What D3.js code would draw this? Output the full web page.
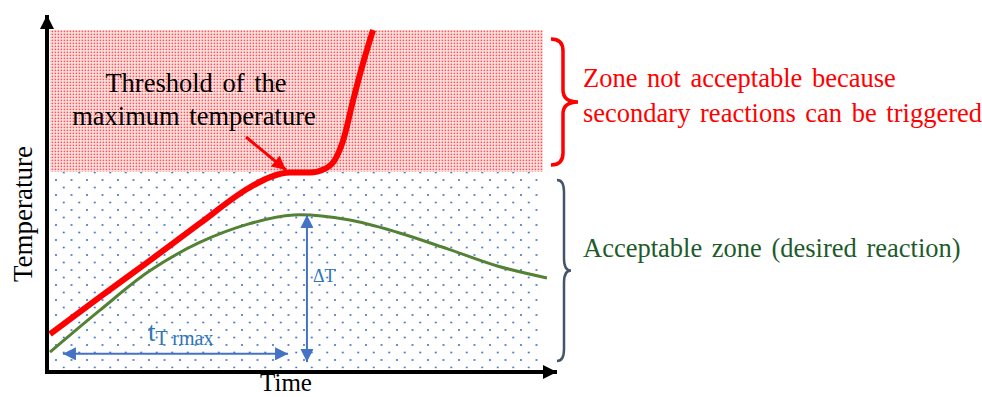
<!DOCTYPE html>
<html>
<head>
<meta charset="utf-8">
<script src="https://cdn.jsdelivr.net/npm/d3@7"></script>
<style>
  body { margin: 0; background: #fff; }
  text { font-family: "Liberation Serif", "DejaVu Serif", serif; }
</style>
</head>
<body>
<svg id="chart"></svg>
<script>
// time (arbitrary units) and temperature (arbitrary units)
var runawayTime = [0, 10, 20, 30, 40, 44.3, 48.3, 52.3, 55.3, 57.3, 59, 61, 63, 65];
var runawayTemp = [11.1, 21.9, 32.5, 43.3, 53.8, 57.0, 58.3, 58.3, 59.4, 62.0, 67.8, 79.5, 90.4, 100];

var desiredTime = [0, 10, 20, 30, 40, 49, 60, 70, 80, 90, 100];
var desiredTemp = [5.8, 18.0, 29.5, 37.8, 43.3, 45.9, 44.5, 40.8, 36.0, 31.0, 27.5];

var thresholdTemp = 58.5;   // limit between the two zones
var zoneEnd = 99.2;         // zones stop a bit before the end of the time axis
var tMaxTime = 47.9;        // time of the maximum temperature
var tArrowTemp = 5.3;
var deltaT = [2.9, 45.9];   // vertical arrow span
var deltaTime = 51.7;

var width = 982, height = 397;
var svg = d3.select("#chart").attr("width", width).attr("height", height)
    .style("display", "block")
    .style("font-family", "'Liberation Serif', 'DejaVu Serif', serif");

var x = d3.scaleLinear().domain([0, 100]).range([50, 547]);
var y = d3.scaleLinear().domain([0, 100]).range([372, 30]);

var defs = svg.append("defs");

// red dotted fill
var red = defs.append("pattern")
    .attr("id", "redDots")
    .attr("patternUnits", "userSpaceOnUse")
    .attr("width", 3).attr("height", 3);
red.append("rect").attr("width", 3).attr("height", 3).attr("fill", "#fee8e8");
red.append("rect").attr("x", 0.6).attr("y", 0.6).attr("width", 1.6).attr("height", 1.6).attr("fill", "#f75555");

// sparse blue dots
var blue = defs.append("pattern")
    .attr("id", "blueDots")
    .attr("patternUnits", "userSpaceOnUse")
    .attr("x", 56).attr("y", 180)
    .attr("width", 15.5).attr("height", 15);
blue.append("rect").attr("width", 15.5).attr("height", 15).attr("fill", "#fff");
[[0, 0], [15.5, 0], [0, 15], [15.5, 15], [7.75, 7.5]].forEach(function (p) {
    blue.append("circle").attr("cx", p[0]).attr("cy", p[1]).attr("r", 1.1).attr("fill", "#4a78c8");
});

function arrowMarker(id, color, w, h) {
    defs.append("marker")
        .attr("id", id)
        .attr("viewBox", "0 0 10 10")
        .attr("refX", 10).attr("refY", 5)
        .attr("markerUnits", "userSpaceOnUse")
        .attr("markerWidth", w).attr("markerHeight", h)
        .attr("orient", "auto-start-reverse")
        .append("path")
        .attr("d", "M0,0L10,5L0,10Z")
        .attr("fill", color);
}
arrowMarker("blackHead", "#000", 14, 14);
arrowMarker("blueHead", "#4472c4", 15, 13);
arrowMarker("redHead", "#ff0000", 15, 14);

// zones
svg.append("rect")
    .attr("x", x(0)).attr("y", y(100))
    .attr("width", x(zoneEnd) - x(0))
    .attr("height", y(thresholdTemp) - y(100))
    .attr("fill", "url(#redDots)");
svg.append("rect")
    .attr("x", x(0)).attr("y", y(thresholdTemp))
    .attr("width", x(zoneEnd) - x(0))
    .attr("height", y(1) - y(thresholdTemp))
    .attr("fill", "url(#blueDots)");

// curves
var line = d3.line()
    .x(function (d) { return x(d[0]); })
    .y(function (d) { return y(d[1]); })
    .curve(d3.curveCatmullRom);

svg.append("path")
    .attr("d", line(d3.zip(desiredTime, desiredTemp)))
    .attr("fill", "none")
    .attr("stroke", "#548235")
    .attr("stroke-width", 3);

svg.append("path")
    .attr("d", line.curve(d3.curveMonotoneX)(d3.zip(runawayTime, runawayTemp)))
    .attr("fill", "none")
    .attr("stroke", "#ff0000")
    .attr("stroke-width", 6);

// axes
svg.append("line")
    .attr("x1", 47).attr("y1", y(0) + 1.5)
    .attr("x2", 47).attr("y2", 15)
    .attr("stroke", "#000").attr("stroke-width", 4)
    .attr("marker-end", "url(#blackHead)");
svg.append("line")
    .attr("x1", 45).attr("y1", y(0))
    .attr("x2", 557).attr("y2", y(0))
    .attr("stroke", "#000").attr("stroke-width", 4)
    .attr("marker-end", "url(#blackHead)");

svg.append("text")
    .attr("transform", "translate(32,214) rotate(-90)")
    .attr("text-anchor", "middle")
    .style("font-size", "27px")
    .text("Temperature");
svg.append("text")
    .attr("x", 286).attr("y", 391)
    .attr("text-anchor", "middle")
    .style("font-size", "25px")
    .text("Time");

// blue measurement arrows
svg.append("line")
    .attr("x1", x(2.6)).attr("y1", y(tArrowTemp))
    .attr("x2", x(tMaxTime)).attr("y2", y(tArrowTemp))
    .attr("stroke", "#4472c4").attr("stroke-width", 2)
    .attr("marker-start", "url(#blueHead)")
    .attr("marker-end", "url(#blueHead)");
svg.append("line")
    .attr("x1", x(deltaTime)).attr("y1", y(deltaT[1]))
    .attr("x2", x(deltaTime)).attr("y2", y(deltaT[0]))
    .attr("stroke", "#4472c4").attr("stroke-width", 2)
    .attr("marker-start", "url(#blueHead)")
    .attr("marker-end", "url(#blueHead)");

var tLabel = svg.append("text")
    .attr("x", 148).attr("y", 341)
    .attr("fill", "#2e75b6")
    .style("font-size", "27px");
tLabel.append("tspan").text("t");
tLabel.append("tspan").attr("dy", 4).style("font-size", "20px").text("T rmax");

svg.append("text")
    .attr("x", 313).attr("y", 282)
    .attr("fill", "#2e75b6")
    .style("font-size", "18px")
    .text("\u0394T");

// threshold annotation
svg.append("text")
    .attr("x", 196).attr("y", 92)
    .attr("text-anchor", "middle")
    .style("font-size", "26.5px")
    .attr("word-spacing", "3px")
    .text("Threshold  of the");
svg.append("text")
    .attr("x", 194).attr("y", 125)
    .attr("text-anchor", "middle")
    .style("font-size", "26.5px")
    .attr("word-spacing", "3px")
    .text("maximum  temperature");
svg.append("line")
    .attr("x1", 246).attr("y1", 137)
    .attr("x2", 286).attr("y2", 170)
    .attr("stroke", "#ff0000").attr("stroke-width", 3)
    .attr("marker-end", "url(#redHead)");

// braces
function brace(x0, xm, xt, y0, y1) {
    var ym = (y0 + y1) / 2, r = 12;
    return "M" + x0 + "," + y0 +
        "Q" + xm + "," + y0 + " " + xm + "," + (y0 + r) +
        "L" + xm + "," + (ym - r) +
        "Q" + xm + "," + ym + " " + xt + "," + ym +
        "Q" + xm + "," + ym + " " + xm + "," + (ym + r) +
        "L" + xm + "," + (y1 - r) +
        "Q" + xm + "," + y1 + " " + x0 + "," + y1;
}
svg.append("path")
    .attr("d", brace(551, 563, 578, 39, 165))
    .attr("fill", "none").attr("stroke", "#ff0000").attr("stroke-width", 3.5);
svg.append("path")
    .attr("d", brace(557, 564, 571, 180, 361))
    .attr("fill", "none").attr("stroke", "#44546a").attr("stroke-width", 2.5);

svg.append("text")
    .attr("x", 583).attr("y", 87)
    .attr("fill", "#ff0000")
    .style("font-size", "26.5px")
    .attr("word-spacing", "3px")
    .text("Zone  not acceptable  because");
svg.append("text")
    .attr("x", 583).attr("y", 122)
    .attr("fill", "#ff0000")
    .style("font-size", "26.5px")
    .attr("word-spacing", "3px")
    .text("secondary  reactions  can be triggered");
svg.append("text")
    .attr("x", 583).attr("y", 257)
    .attr("fill", "#1e5b2a")
    .style("font-size", "26.5px")
    .attr("word-spacing", "3px")
    .text("Acceptable  zone  (desired  reaction)");
</script>
</body>
</html>
